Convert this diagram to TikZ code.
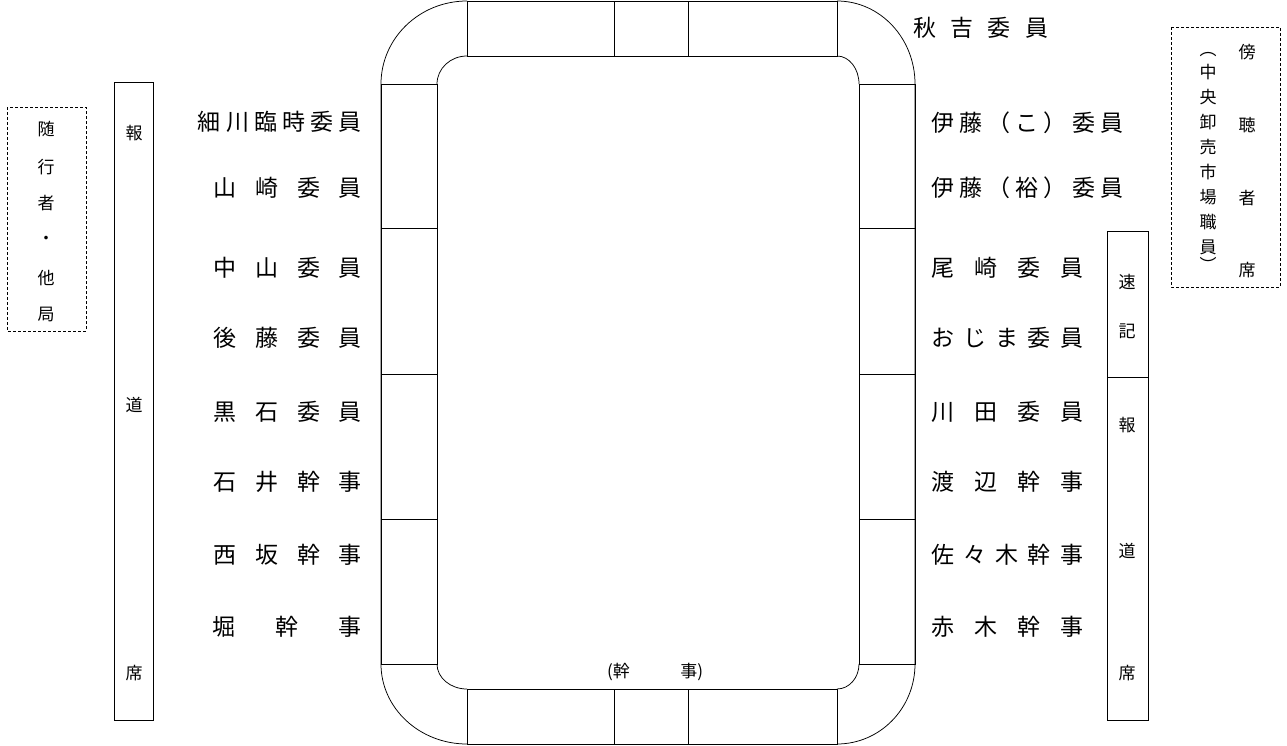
\documentclass[tikz,border=0pt]{standalone}
\usepackage{fontspec}
\newfontfamily\jp{Noto Sans CJK JP}
\newcommand\spreadtxt[2]{\makebox[#1pt][s]{#2}}
\tikzset{
  frame/.style={draw=black, line width=0.75pt},
  dbox/.style={draw=black, line width=0.7pt, dash pattern=on 3pt off 2pt},
  nm/.style={inner sep=0pt, font=\jp\fontsize{23}{23}\selectfont},
  sm/.style={inner sep=0pt, font=\jp\fontsize{17}{17}\selectfont},
}
\begin{document}
\begin{tikzpicture}[x=1pt,y=1pt]
\useasboundingbox (0,0) rectangle (1287,-745);
% ---- table: outer outline
\draw[frame] (381,-664) -- (381,-84)
  arc[start angle=180,end angle=90,x radius=86pt,y radius=83pt];
\draw[frame] (837,-1)
  arc[start angle=90,end angle=0,x radius=78pt,y radius=83pt] -- (915,-664)
  arc[start angle=0,end angle=-90,x radius=78pt,y radius=80pt];
\draw[frame] (467,-744)
  arc[start angle=-90,end angle=-180,x radius=86pt,y radius=80pt];
% ---- inner corners
\draw[frame] (437,-84) arc[start angle=180,end angle=90,x radius=30pt,y radius=28pt];
\draw[frame] (837,-56) arc[start angle=90,end angle=0,x radius=22pt,y radius=28pt];
\draw[frame] (859,-664) arc[start angle=0,end angle=-90,x radius=22pt,y radius=25pt];
\draw[frame] (467,-689) arc[start angle=-90,end angle=-180,x radius=30pt,y radius=25pt];
% ---- top and bottom boxes
\draw[frame] (467,-1) rectangle (614,-56);
\draw[frame] (614,-1) rectangle (688,-56);
\draw[frame] (688,-1) rectangle (837,-56);
\draw[frame] (467,-689) rectangle (614,-744);
\draw[frame] (614,-689) rectangle (688,-744);
\draw[frame] (688,-689) rectangle (837,-744);
% ---- side boxes
\foreach \a/\b in {84/228,228/374,374/519,519/664}{
  \draw[frame] (381,-\a) rectangle (437,-\b);
  \draw[frame] (859,-\a) rectangle (915,-\b);
}
\node[sm] (kanji) at (655,-672) {\spreadtxt{96}{(幹\hfill 事)}};
% ---- left names
\node[nm,anchor=east] (l1) at (362,-122) {\spreadtxt{164}{細\hfill 川\hfill 臨\hfill 時\hfill 委\hfill 員}};
\node[nm,anchor=east] (l2) at (362,-188) {\spreadtxt{148}{山\hfill 崎\hfill 委\hfill 員}};
\node[nm,anchor=east] (l3) at (362,-268) {\spreadtxt{148}{中\hfill 山\hfill 委\hfill 員}};
\node[nm,anchor=east] (l4) at (362,-338) {\spreadtxt{148}{後\hfill 藤\hfill 委\hfill 員}};
\node[nm,anchor=east] (l5) at (362,-412) {\spreadtxt{148}{黒\hfill 石\hfill 委\hfill 員}};
\node[nm,anchor=east] (l6) at (362,-482) {\spreadtxt{148}{石\hfill 井\hfill 幹\hfill 事}};
\node[nm,anchor=east] (l7) at (362,-555) {\spreadtxt{148}{西\hfill 坂\hfill 幹\hfill 事}};
\node[nm,anchor=east] (l8) at (362,-627) {\spreadtxt{149}{堀\hfill 幹\hfill 事}};
% ---- right names
\node[nm,anchor=west] (r0) at (913,-28) {\spreadtxt{135}{秋\hfill 吉\hfill 委\hfill 員}};
\node[nm,anchor=west] (r1) at (931,-123) {\spreadtxt{192}{伊\hfill 藤\hfill （\hfill こ\hfill ）\hfill 委\hfill 員}};
\node[nm,anchor=west] (r2) at (931,-188) {\spreadtxt{192}{伊\hfill 藤\hfill （\hfill 裕\hfill ）\hfill 委\hfill 員}};
\node[nm,anchor=west] (r3) at (931,-268) {\spreadtxt{152}{尾\hfill 崎\hfill 委\hfill 員}};
\node[nm,anchor=west] (r4) at (931,-338) {\spreadtxt{152}{お\hfill じ\hfill ま\hfill 委\hfill 員}};
\node[nm,anchor=west] (r5) at (931,-412) {\spreadtxt{152}{川\hfill 田\hfill 委\hfill 員}};
\node[nm,anchor=west] (r6) at (931,-482) {\spreadtxt{152}{渡\hfill 辺\hfill 幹\hfill 事}};
\node[nm,anchor=west] (r7) at (931,-555) {\spreadtxt{152}{佐\hfill 々\hfill 木\hfill 幹\hfill 事}};
\node[nm,anchor=west] (r8) at (931,-627) {\spreadtxt{152}{赤\hfill 木\hfill 幹\hfill 事}};
% ---- left dashed box: 随行者・他局
\draw[dbox] (7,-107) rectangle (86,-331);
\node[sm] (d1) at (46,-129) {随};
\node[sm] (d2) at (46,-167) {行};
\node[sm] (d3) at (46,-203) {者};
\node[sm] (d4) at (46,-240) {・};
\node[sm] (d5) at (46,-278) {他};
\node[sm] (d6) at (46,-314) {局};
% ---- left press box
\draw[frame] (114,-82) rectangle (153,-720);
\node[sm] (p1) at (134,-133) {報};
\node[sm] (p2) at (134,-405) {道};
\node[sm] (p3) at (134,-673) {席};
% ---- right stenographer / press box
\draw[frame] (1107,-231) rectangle (1148,-377);
\draw[frame] (1107,-377) rectangle (1148,-720);
\node[sm] (s1) at (1127,-282) {速};
\node[sm] (s2) at (1127,-331) {記};
\node[sm] (q1) at (1127,-425) {報};
\node[sm] (q2) at (1127,-551) {道};
\node[sm] (q3) at (1127,-673) {席};
% ---- right dashed box: 傍聴者席
\draw[dbox] (1171,-27) rectangle (1280,-287);
\node[sm] (b1) at (1247,-52) {傍};
\node[sm] (b2) at (1247,-125) {聴};
\node[sm] (b3) at (1247,-198) {者};
\node[sm] (b4) at (1247,-270) {席};
\node[sm] (c0) at (1208,-55) {︵};
\node[sm] (c1) at (1208,-72) {中};
\node[sm] (c2) at (1208,-97) {央};
\node[sm] (c3) at (1208,-122) {卸};
\node[sm] (c4) at (1208,-147) {売};
\node[sm] (c5) at (1208,-172) {市};
\node[sm] (c6) at (1208,-197) {場};
\node[sm] (c7) at (1208,-222) {職};
\node[sm] (c8) at (1208,-247) {員};
\node[sm] (c9) at (1208,-264) {︶};
\end{tikzpicture}
\end{document}
